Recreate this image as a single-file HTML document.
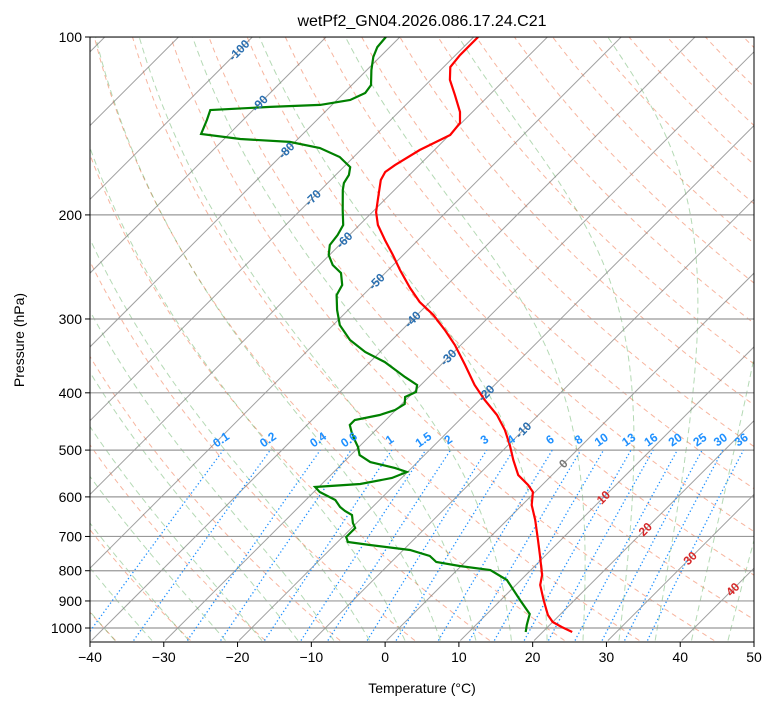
<!DOCTYPE html>
<html><head><meta charset="utf-8"><style>
body{margin:0;background:#fff;}
svg text{font-family:"Liberation Sans","DejaVu Sans",sans-serif;}
</style></head><body>
<svg id="chart" width="775" height="708" xmlns="http://www.w3.org/2000/svg">
<defs><clipPath id="clip"><rect x="90" y="37" width="664" height="605"/></clipPath></defs>
<rect x="0" y="0" width="775" height="708" fill="#fff"/>
<g id="bg" clip-path="url(#clip)"></g>
<g id="prof" clip-path="url(#clip)"></g>
<g id="labels"></g>
<rect x="90" y="37" width="664" height="605" fill="none" stroke="#000" stroke-width="1"/>
<g id="axes"></g>
<text x="422" y="26" font-size="16" text-anchor="middle">wetPf2_GN04.2026.086.17.24.C21</text>
<text x="422" y="693" font-size="14" text-anchor="middle">Temperature (°C)</text>
<text x="24" y="340" font-size="14" text-anchor="middle" transform="rotate(-90 24 340)">Pressure (hPa)</text>
</svg>
<script>
const tempP=[100,107.3,112.4,118.2,125.3,133.9,139.8,146.5,155.3,164.7,169.2,174.6,188.7,197.8,208,220.6,233.8,247.9,265.9,280.8,295.3,313.1,332,358.9,388,411.4,436.1,462.4,490.2,519.6,551,572.8,588.6,619.2,656.5,709.9,752.6,782.5,813.5,845.9,896.8,950.6,976.8,996.1,1015.8];
const tempT=[-69.4,-69.4,-69.1,-67.4,-64.7,-61.7,-60.2,-59.9,-62.0,-63.3,-63.7,-63.2,-60.9,-59.5,-57.5,-54.5,-51.4,-48.4,-44.6,-41.4,-37.8,-34.2,-30.8,-26.7,-22.7,-19.3,-15.6,-12.5,-9.8,-7.3,-4.6,-1.9,-0.3,1.3,3.8,6.9,9.2,10.7,12.2,13.3,15.8,18.4,20.0,21.9,24.0];
const dewP=[100,104,108.1,113.7,120.6,124.4,127.8,130.3,131.3,132.9,138.2,145.9,148.8,150.5,154.1,159.6,166,171.2,176.6,181.5,196.2,208,216.3,224.9,233.8,243.1,250.8,262.8,273.3,289.7,307.2,325.6,341.2,354.8,376.2,388,398.7,406.6,417.8,427.7,436.1,444.7,453.5,466.1,480.8,494.1,509.8,523.9,536.3,544.5,557.5,570.6,577.4,588.6,607.3,624.1,633.9,643.8,664.2,677.4,701.5,715.3,723.8,737.9,755.4,773.3,785.5,797.8,829.5,896.8,946.9,988.3,1015.8];
const dewT=[-81.9,-81.7,-80.9,-79.4,-77.4,-77.1,-78.2,-81.6,-88.1,-95.8,-94.9,-93.8,-87.8,-80.7,-75.8,-71.9,-69.1,-68.2,-67.8,-67.0,-64.3,-62.2,-61.6,-61.3,-60.1,-58.2,-56.0,-54.2,-53.6,-51.5,-49.1,-45.7,-42.0,-38.0,-33.2,-30.5,-29.7,-30.5,-29.6,-30.1,-31.5,-34.2,-34.2,-33.0,-31.5,-30.1,-28.8,-26.4,-22.2,-20.1,-21.3,-24.8,-30.5,-29.2,-26.0,-24.4,-23.2,-21.7,-20.5,-19.5,-19.5,-18.6,-15.2,-9.1,-5.6,-3.9,-0.2,4.5,8.1,12.6,15.8,16.9,17.7];
const xTicks=[-40,-30,-20,-10,0,10,20,30,40,50];
const pTicks=[100,200,300,400,500,600,700,800,900,1000];
const mixW=[0.1,0.2,0.4,0.6,1,1.5,2,3,4,6,8,10,13,16,20,25,30,36];
const isoLabelT=[-100,-90,-80,-70,-60,-50,-40,-30,-20,-10,0,10,20,30,40];
const isoLabelP=[105.3,129.5,155.6,187.1,220.6,259.3,300.5,348.4,400.5,462.4,527.1,601.2,680.8,762.0,860.3];

const NS="http://www.w3.org/2000/svg";
const L=90,R=754,T0=37,B=642,PX=664/90;
function Y(p){return T0+591*Math.log10(p/100);}
function X(t,p){return L+(t+40)*PX+(B-Y(p));}
function mk(tag,attrs,parent){const e=document.createElementNS(NS,tag);for(const k in attrs)e.setAttribute(k,attrs[k]);parent.appendChild(e);return e;}
function pathD(pts){return pts.map((q,i)=>(i?'L':'M')+q[0].toFixed(1)+','+q[1].toFixed(1)).join('');}
const bg=document.getElementById('bg'),prof=document.getElementById('prof'),lab=document.getElementById('labels'),ax=document.getElementById('axes');
const plevs=[];for(let p=1050;p>=95;p-=5)plevs.push(p);

// dry adiabats
for(let th=-160;th<=250;th+=10){const pts=plevs.map(p=>[X((th+273.15)*Math.pow(p/1000,0.286)-273.15,p),Y(p)]);
const e=mk('path',{d:pathD(pts),fill:'none',stroke:'#f07850','stroke-opacity':0.55,'stroke-width':1,'stroke-dasharray':'5,4'},bg);

}
// moist adiabats
function es(tc){return 6.112*Math.exp(17.67*tc/(tc+243.5));}
function moist(t0){const Rd=287.04,cp=1005.7,Lv=2.501e6,eps=0.622;
function dTdp(p,T){const rs=eps*es(T-273.15)/(p-es(T-273.15));return (Rd*T+Lv*rs)/(p*(cp+Lv*Lv*rs*eps/(Rd*T*T)));}
const res={};let T=t0+273.15;res[1000]=T;
for(let p=1000;p>95;p-=1){T-=dTdp(p,T);if((p-1)%5===0)res[p-1]=T;}
T=t0+273.15;for(let p=1000;p<1050;p+=1){T+=dTdp(p,T);if((p+1)%5===0)res[p+1]=T;}
return plevs.filter(p=>res[p]!==undefined).map(p=>[X(res[p]-273.15,p),Y(p)]);}
for(let t=-45;t<=45;t+=5){const e=mk('path',{d:pathD(moist(t)),fill:'none',stroke:'#3a9a3a','stroke-opacity':0.38,'stroke-width':1,'stroke-dasharray':'6,4'},bg);

}
// isotherms
for(let t=-170;t<=50;t+=10){const e=mk('line',{x1:X(t,1050),y1:Y(1050),x2:X(t,100),y2:Y(100),stroke:'#777','stroke-opacity':0.7,'stroke-width':1},bg);

}
// isobars
pTicks.forEach(p=>{const e=mk('line',{x1:L,y1:Y(p),x2:R,y2:Y(p),stroke:'#999','stroke-width':1.2},bg);

});
// mixing lines
function tdw(w,p){const e=w*p/(622+w);const l=Math.log(e/6.112);return 243.5*l/(17.67-l);}
mixW.forEach(w=>{const pts=plevs.filter(p=>p>=500).map(p=>[X(tdw(w,p),p),Y(p)]);
const e=mk('path',{d:pathD(pts),fill:'none',stroke:'#1e90ff','stroke-width':1.3,'stroke-dasharray':'1.3,2.5'},bg);


const x=X(tdw(w,500),500),y=443;
const t=mk('text',{x:x,y:y,'font-size':12,'font-weight':'bold',fill:'#1e90ff','text-anchor':'middle',transform:'rotate(-35 '+x+' '+y+')'},lab);t.textContent=String(w);

});
// isotherm labels
isoLabelT.forEach((tv,i)=>{const p=isoLabelP[i];const x=X(tv,p),y=Y(p);
const col=tv<0?'#2a6fb0':(tv===0?'#777':'#d62728');
const t=mk('text',{x:x,y:y+4,'font-size':12,'font-weight':'bold',fill:col,'text-anchor':'middle',transform:'rotate(-45 '+x+' '+y+')'},lab);t.textContent=String(tv);

});
// profiles
const tp=mk('path',{d:pathD(tempP.map((p,i)=>[X(tempT[i],p),Y(p)])),fill:'none',stroke:'#ff0000','stroke-width':2.2},prof);


const dp=mk('path',{d:pathD(dewP.map((p,i)=>[X(dewT[i],p),Y(p)])),fill:'none',stroke:'#008000','stroke-width':2.2},prof);


// axes ticks
xTicks.forEach(t=>{const x=L+(t+40)*PX;mk('line',{x1:x,y1:B,x2:x,y2:B+5,stroke:'#000'},ax);
const e=mk('text',{x:x,y:B+20,'font-size':14,'text-anchor':'middle'},ax);e.textContent=(t<0?'\u2212'+(-t):String(t));

});
pTicks.forEach(p=>{const y=Y(p);mk('line',{x1:L-5,y1:y,x2:L,y2:y,stroke:'#000'},ax);
const e=mk('text',{x:L-8,y:y+5,'font-size':14,'text-anchor':'end'},ax);e.textContent=String(p);

});
</script>
</body></html>
